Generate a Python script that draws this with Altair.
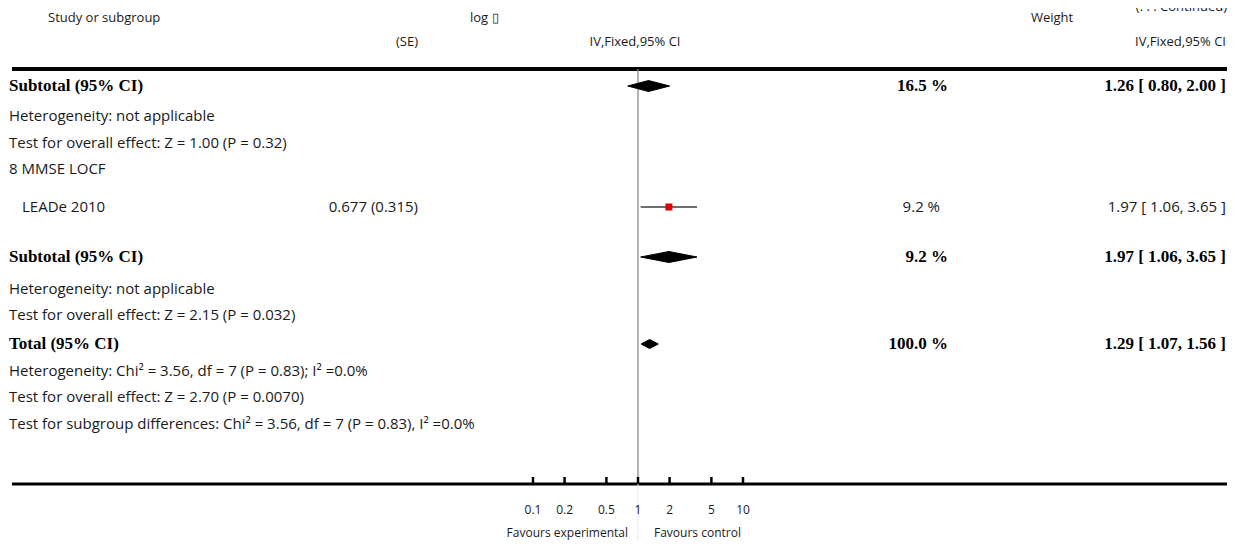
import altair as alt
import pandas as pd

# ---------------- data ----------------
row_labels = [
    "Subtotal (95% CI)",
    "Heterogeneity: not applicable",
    "Test for overall effect: Z = 1.00 (P = 0.32)",
    "8 MMSE LOCF",
    "LEADe 2010",
    "Subtotal (95% CI)",
    "Heterogeneity: not applicable",
    "Test for overall effect: Z = 2.15 (P = 0.032)",
    "Total (95% CI)",
    "Heterogeneity: Chi\u00b2 = 3.56, df = 7 (P = 0.83); I\u00b2 =0.0%",
    "Test for overall effect: Z = 2.70 (P = 0.0070)",
    "Test for subgroup differences: Chi\u00b2 = 3.56, df = 7 (P = 0.83), I\u00b2 =0.0%",
]
row_kind = ["bold", "plain", "plain", "plain", "study", "bold",
            "plain", "plain", "bold", "plain", "plain", "plain"]
row_estimate = ["", "", "", "", "0.677 (0.315)", "", "", "", "", "", "", ""]
row_weight = ["16.5 %", "", "", "", "9.2 %", "9.2 %", "", "", "100.0 %", "", "", ""]
row_ci = ["1.26 [ 0.80, 2.00 ]", "", "", "", "1.97 [ 1.06, 3.65 ]",
          "1.97 [ 1.06, 3.65 ]", "", "", "1.29 [ 1.07, 1.56 ]", "", "", ""]

pooled_names = ["Subtotal 7", "Subtotal 8", "Total"]
pooled_est = [1.26, 1.97, 1.29]
pooled_lo = [0.80, 1.06, 1.07]
pooled_hi = [2.00, 3.65, 1.56]
pooled_row = [0, 5, 8]

study_names = ["LEADe 2010"]
study_est = [1.97]
study_lo = [1.06]
study_hi = [3.65]
study_row = [4]

tick_values = [0.1, 0.2, 0.5, 1, 2, 5, 10]
tick_labels = ["0.1", "0.2", "0.5", "1", "2", "5", "10"]
null_value = [1]

header_top = ["Study or subgroup", "log \u25af", "Weight"]
header_sub = ["(SE)", "IV,Fixed,95% CI", "IV,Fixed,95% CI"]
favours = ["Favours experimental", "Favours control"]
continued = "(. . . Continued)"

# ---------------- layout ----------------
W, H = 1219, 533
row_y = [78, 108, 135, 161, 199, 249, 281, 307, 336, 363, 389, 416]
diamond_half = [5.5, 5.5, 4.5]
head1_y, head2_y = 10, 34
top_line_y, axis_y = 61, 476
tick_label_y, favours_y = 502, 525

SANS = "Open Sans"
SERIF = "Liberation Serif"
INK = "#1a1a1a"
BODY = 15
HEAD = 13
BOLD = 17

yscale = alt.Scale(domain=[0, H], range=[0, H], nice=False, zero=False)
xscale = alt.Scale(type="log", domain=[0.01, 100], range=[420, 840], nice=False)


def text_layer(texts, ys, x, align, font=SANS, size=BODY, weight="normal", color=INK,
               baseline="middle"):
    df = pd.DataFrame({"t": texts, "y": ys})
    return alt.Chart(df).mark_text(
        align=align, baseline=baseline, font=font, fontSize=size,
        fontWeight=weight, color=color
    ).encode(
        x=alt.value(x),
        y=alt.Y("y:Q", scale=yscale, axis=None),
        text="t:N",
    )


layers = []

# continued note (clipped at the top as in the source)
layers.append(text_layer([continued], [3], 1219, "right", size=HEAD, baseline="alphabetic"))

# headers
layers.append(text_layer([header_top[0]], [head1_y], 40, "left", size=HEAD))
layers.append(text_layer([header_top[1]], [head1_y], 462, "left", size=HEAD))
layers.append(text_layer([header_top[2]], [head1_y], 1044, "center", size=HEAD))
layers.append(text_layer([header_sub[0]], [head2_y], 410, "right", size=HEAD))
layers.append(text_layer([header_sub[1]], [head2_y], 627, "center", size=HEAD))
layers.append(text_layer([header_sub[2]], [head2_y], 1218, "right", size=HEAD))

# left column text
bold_i = [i for i, k in enumerate(row_kind) if k == "bold"]
plain_i = [i for i, k in enumerate(row_kind) if k == "plain"]
study_i = [i for i, k in enumerate(row_kind) if k == "study"]
layers.append(text_layer([row_labels[i] for i in bold_i], [row_y[i] for i in bold_i],
                         1, "left", font=SERIF, size=BOLD, weight="bold", color="#000"))
layers.append(text_layer([row_labels[i] for i in plain_i], [row_y[i] for i in plain_i],
                         1, "left"))
layers.append(text_layer([row_labels[i] for i in study_i], [row_y[i] for i in study_i],
                         14, "left"))

# estimate column
est_i = [i for i, s in enumerate(row_estimate) if s]
layers.append(text_layer([row_estimate[i] for i in est_i], [row_y[i] for i in est_i],
                         410, "right"))

# weight + CI columns (bold for pooled rows, plain for studies)
for cols, xb, xp in ((row_weight, 940, 932), (row_ci, 1218, 1218)):
    b = [i for i, s in enumerate(cols) if s and row_kind[i] == "bold"]
    p = [i for i, s in enumerate(cols) if s and row_kind[i] != "bold"]
    layers.append(text_layer([cols[i] for i in b], [row_y[i] for i in b], xb, "right",
                             font=SERIF, size=BOLD, weight="bold", color="#000"))
    layers.append(text_layer([cols[i] for i in p], [row_y[i] for i in p], xp, "right"))

# horizontal thick rules
rule_df = pd.DataFrame({"a": [0]})
layers.append(alt.Chart(rule_df).mark_rule(color="#000", strokeWidth=4).encode(
    x=alt.value(4), x2=alt.value(W), y=alt.value(top_line_y)))
layers.append(alt.Chart(rule_df).mark_rule(color="#000", strokeWidth=3).encode(
    x=alt.value(4), x2=alt.value(W), y=alt.value(axis_y)))

# line of no effect
null_df = pd.DataFrame({"v": null_value})
layers.append(alt.Chart(null_df).mark_rule(color="#8a8a8a", strokeWidth=1.3).encode(
    x=alt.X("v:Q", scale=xscale, axis=None),
    y=alt.value(top_line_y), y2=alt.value(axis_y)))
layers.append(alt.Chart(null_df).mark_rule(color="#e6e6e6", strokeWidth=1).encode(
    x=alt.X("v:Q", scale=xscale, axis=None),
    y=alt.value(axis_y), y2=alt.value(H)))

# axis ticks + labels
tick_df = pd.DataFrame({"v": tick_values, "lab": tick_labels})
layers.append(alt.Chart(tick_df).mark_rule(color="#000", strokeWidth=2.5).encode(
    x=alt.X("v:Q", scale=xscale, axis=None),
    y=alt.value(axis_y - 7), y2=alt.value(axis_y)))
layers.append(alt.Chart(tick_df).mark_text(font=SANS, fontSize=12, color=INK,
                                           baseline="middle").encode(
    x=alt.X("v:Q", scale=xscale, axis=None),
    y=alt.value(tick_label_y), text="lab:N"))

# favours labels
layers.append(text_layer([favours[0]], [favours_y], 620, "right", size=12))
layers.append(text_layer([favours[1]], [favours_y], 646, "left", size=12))

# study CI line + square
sdf = pd.DataFrame({
    "name": study_names, "est": study_est, "lo": study_lo, "hi": study_hi,
    "y": [row_y[r] for r in study_row],
})
layers.append(alt.Chart(sdf).mark_rule(color="#6e6e6e", strokeWidth=2).encode(
    x=alt.X("lo:Q", scale=xscale, axis=None), x2="hi:Q",
    y=alt.Y("y:Q", scale=yscale, axis=None)))
layers.append(alt.Chart(sdf).mark_square(color="#e00000", opacity=1, size=49).encode(
    x=alt.X("est:Q", scale=xscale, axis=None),
    y=alt.Y("y:Q", scale=yscale, axis=None)))

# pooled diamonds: one filled area per diamond, plus a closed outline
for k in range(len(pooled_names)):
    yc = row_y[pooled_row[k]]
    h = diamond_half[k]
    area_df = pd.DataFrame({
        "v": [pooled_lo[k], pooled_est[k], pooled_hi[k]],
        "yt": [yc, yc - h, yc],
        "yb": [yc, yc + h, yc],
    })
    layers.append(alt.Chart(area_df).mark_area(color="#000", opacity=1).encode(
        x=alt.X("v:Q", scale=xscale, axis=None),
        y=alt.Y("yt:Q", scale=yscale, axis=None, stack=None),
        y2=alt.Y2("yb:Q"),
    ))
    outline_df = pd.DataFrame({
        "v": [pooled_lo[k], pooled_est[k], pooled_hi[k], pooled_est[k], pooled_lo[k]],
        "yy": [yc, yc - h, yc, yc + h, yc],
        "o": [0, 1, 2, 3, 4],
    })
    layers.append(alt.Chart(outline_df).mark_line(color="#000", strokeWidth=1).encode(
        x=alt.X("v:Q", scale=xscale, axis=None),
        y=alt.Y("yy:Q", scale=yscale, axis=None),
        order="o:Q",
    ))

chart = alt.layer(*layers).properties(
    width=W, height=H, padding=0,
    autosize=alt.AutoSizeParams(type="none"),
    background="white",
).configure_view(stroke=None)

chart.save("out.html", embed_options={"renderer": "svg", "actions": False})
